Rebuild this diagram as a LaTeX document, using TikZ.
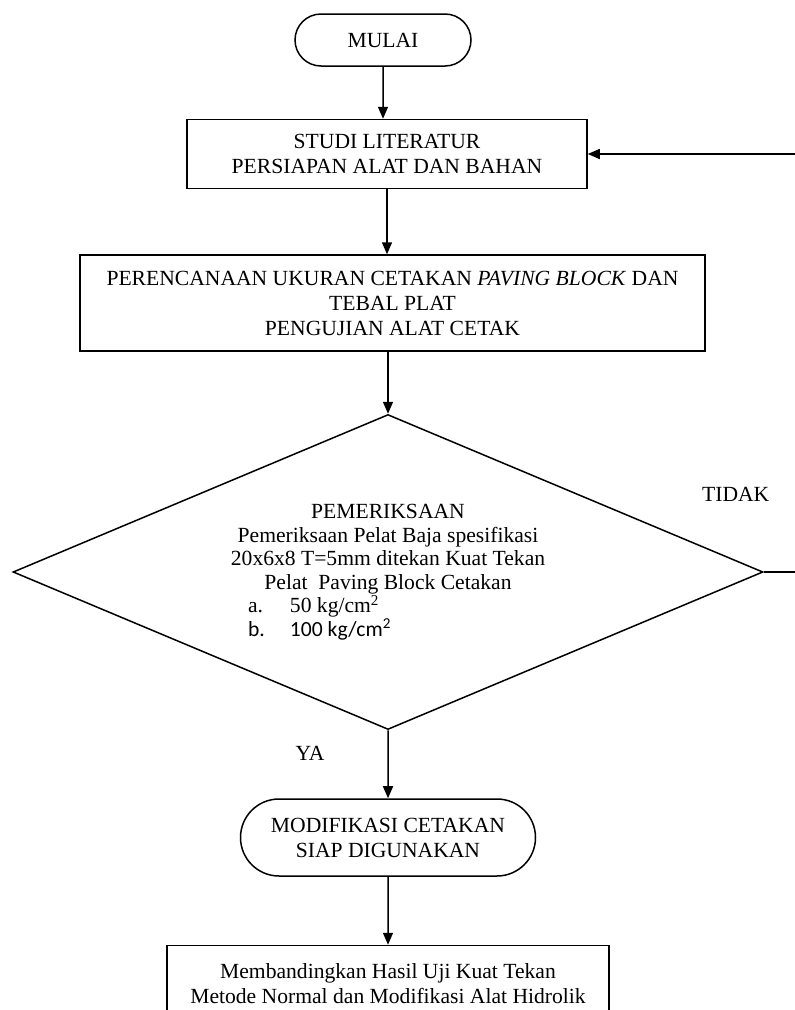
\documentclass[tikz,border=0pt]{standalone}
\usepackage{fontspec}
\setmainfont{Liberation Serif}
\newfontfamily\calibrifont{Carlito}
\usetikzlibrary{shapes.geometric, shapes.misc, arrows.meta, positioning}

\begin{document}
\begin{tikzpicture}[
        x=1pt, y=1pt,
        every node/.style={font=\fontsize{21.6}{25}\selectfont},
        box/.style={draw, line width=1.5pt, align=center, inner sep=0pt},
        term/.style={draw, line width=1.5pt, rounded rectangle,
                     align=center, inner sep=0pt},
        decision/.style={draw, line width=1.5pt, diamond, aspect=2.37,
                     inner sep=0pt, align=center,
                     minimum width=750pt, minimum height=315pt,
                     font=\fontsize{21.6}{23.5}\selectfont},
        lbl/.style={inner sep=0pt},
        arr/.style={-{Triangle[length=12pt, width=10pt]}, line width=1.5pt}
      ]
        \useasboundingbox (0,0) rectangle (795,-1010);
        \node[term, minimum width=176pt, minimum height=52pt]
          (mulai) at (383,-40) {MULAI};
        \node[box, below=52pt of mulai, xshift=4pt,
              minimum width=400pt, minimum height=69pt]
          (studi) {STUDI LITERATUR\\PERSIAPAN ALAT DAN BAHAN};
        \node[box, below=65pt of studi, xshift=5.5pt,
              minimum width=625pt, minimum height=96pt]
          (plan) {PERENCANAAN UKURAN CETAKAN \textit{PAVING BLOCK} DAN\\
                  TEBAL PLAT\\PENGUJIAN ALAT CETAK};
        \node[decision, below=62pt of plan, xshift=-4.5pt] (check)
          {PEMERIKSAAN\\
           Pemeriksaan Pelat Baja spesifikasi\\
           20x6x8 T=5mm ditekan Kuat Tekan\\
           Pelat\ \ Paving Block Cetakan\\
           \makebox[280pt][l]{\makebox[42pt][l]{a.}50 kg/cm\textsuperscript{2}}\\
           \makebox[280pt][l]{\calibrifont\makebox[42pt][l]{b.}100 kg/cm\textsuperscript{2}}};
        \node[term, below=68pt of check, minimum width=295pt, minimum height=77pt]
          (modif) {MODIFIKASI CETAKAN\\SIAP DIGUNAKAN};
        \node[box, below=68pt of modif, minimum width=442pt, minimum height=76pt]
          (hasil) {Membandingkan Hasil Uji Kuat Tekan\\
                   Metode Normal dan Modifikasi Alat Hidrolik};
        \node[lbl] (tidak) at ([xshift=-28pt, yshift=77.5pt]check.east) {TIDAK};
        \node[lbl] (ya) at ([xshift=-78pt, yshift=-23pt]check.south) {YA};
        \draw[arr] (mulai) -- (mulai |- studi.north);
        \draw[arr] (studi) -- (studi |- plan.north);
        \draw[arr] (check |- plan.south) -- (check);
        \draw[arr] (check) -- (modif);
        \draw[arr] (modif) -- (hasil);
        \draw[arr] (check.east) -- ++(40pt,0) |- (studi.east);
      \end{tikzpicture}
\end{document}
